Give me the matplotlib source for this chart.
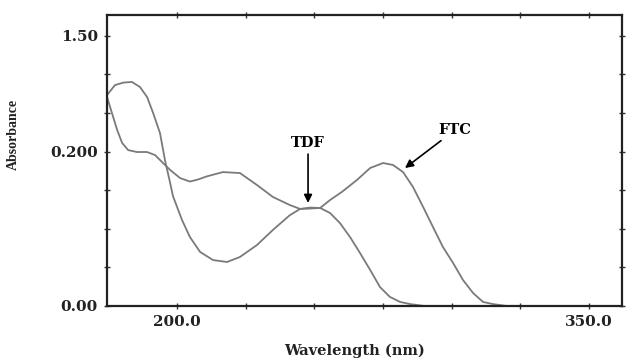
import matplotlib
matplotlib.use("Agg")
import matplotlib.pyplot as plt

# spectra (wavelength nm, absorbance)
tdf_wl = [174.5, 177.4, 180.5, 183.6, 186.5, 189.1, 191.3, 193.8, 195.6, 197.5, 198.5,
          201.8, 204.7, 208.4, 213.1, 218.2, 222.9, 229.1, 234.9, 241.1, 244.8, 248.5,
          252.1, 255.7, 259.3, 263.0, 266.6, 270.3, 273.9, 277.5, 281.2, 284.8, 290.0]
tdf_abs = [1.093, 1.145, 1.158, 1.161, 1.135, 1.083, 1.000, 0.896, 0.756, 0.637, 0.570,
           0.446, 0.357, 0.280, 0.238, 0.228, 0.254, 0.316, 0.394, 0.471, 0.503, 0.510,
           0.508, 0.482, 0.430, 0.357, 0.275, 0.187, 0.098, 0.047, 0.021, 0.010, 0.0]

ftc_wl = [174.5, 176.3, 178.2, 180.0, 182.2, 185.4, 189.1, 192.0, 194.9, 197.5, 201.1,
          204.7, 207.5, 210.9, 216.7, 222.9, 229.1, 234.9, 241.1, 244.8, 248.5, 252.1,
          255.7, 260.0, 265.5, 270.3, 275.0, 278.6, 282.3, 285.9, 289.6, 293.2, 296.8,
          300.5, 304.1, 307.8, 311.4, 315.0, 320.0]
ftc_abs = [1.083, 1.000, 0.912, 0.845, 0.808, 0.798, 0.798, 0.782, 0.741, 0.705, 0.663,
           0.645, 0.655, 0.672, 0.694, 0.689, 0.627, 0.565, 0.523, 0.503, 0.505, 0.508,
           0.549, 0.591, 0.653, 0.715, 0.741, 0.731, 0.694, 0.617, 0.513, 0.409, 0.306,
           0.223, 0.135, 0.067, 0.021, 0.010, 0.0]

x_ticks = [200, 225, 250, 275, 300, 325, 350]
x_labels = ["200.0", "", "", "", "", "", "350.0"]
y_ticks = [0.0, 0.2, 0.4, 0.6, 0.8, 1.0, 1.2, 1.4]
y_labels = ["0.00", "", "", "", "0.200", "", "", "1.50"]

fig = plt.figure(figsize=(6.28, 3.58), dpi=100)
ax = fig.add_axes([0.1704, 0.1453, 0.82, 0.8127])

line_col = "#7a7a7a"
ax.plot(tdf_wl, tdf_abs, color=line_col, lw=1.3)
ax.plot(ftc_wl, ftc_abs, color=line_col, lw=1.3)

ax.set_xlim(174.5, 362)
ax.set_ylim(0, 1.508)

ax.set_xticks(x_ticks)
ax.set_xticklabels(x_labels)
ax.set_yticks(y_ticks)
ax.set_yticklabels(y_labels)

for lbl in ax.get_xticklabels() + ax.get_yticklabels():
    lbl.set_family("DejaVu Serif")
    lbl.set_fontweight("bold")
    lbl.set_fontsize(11)
    lbl.set_color("#222222")

ax.tick_params(direction="inout", length=5, width=1, top=True, right=True,
               labeltop=False, labelright=False, color="#333333", pad=4)

for s in ax.spines.values():
    s.set_linewidth(1.6)
    s.set_color("#222222")

ax.set_xlabel("Wavelength (nm)", family="DejaVu Serif", fontweight="bold",
              fontsize=10.5, color="#222222")
ax.xaxis.set_label_coords(0.48, -0.13)
ax.set_ylabel("Absorbance", family="Liberation Serif", fontweight="bold",
              fontsize=10, color="#222222")
ax.yaxis.set_label_coords(-0.17, 0.59)

arrow = dict(arrowstyle="-|>", color="black", lw=1.2, mutation_scale=12,
             shrinkA=1, shrinkB=0)
ax.annotate("TDF", xy=(247.7, 0.534), xytext=(247.7, 0.845), ha="center",
            va="center", family="DejaVu Serif", fontweight="bold", fontsize=10.5,
            arrowprops=arrow)
ax.annotate("FTC", xy=(283.0, 0.715), xytext=(301.2, 0.912), ha="center",
            va="center", family="DejaVu Serif", fontweight="bold", fontsize=10.5,
            arrowprops=arrow)

fig.savefig("out.png", dpi=100)
